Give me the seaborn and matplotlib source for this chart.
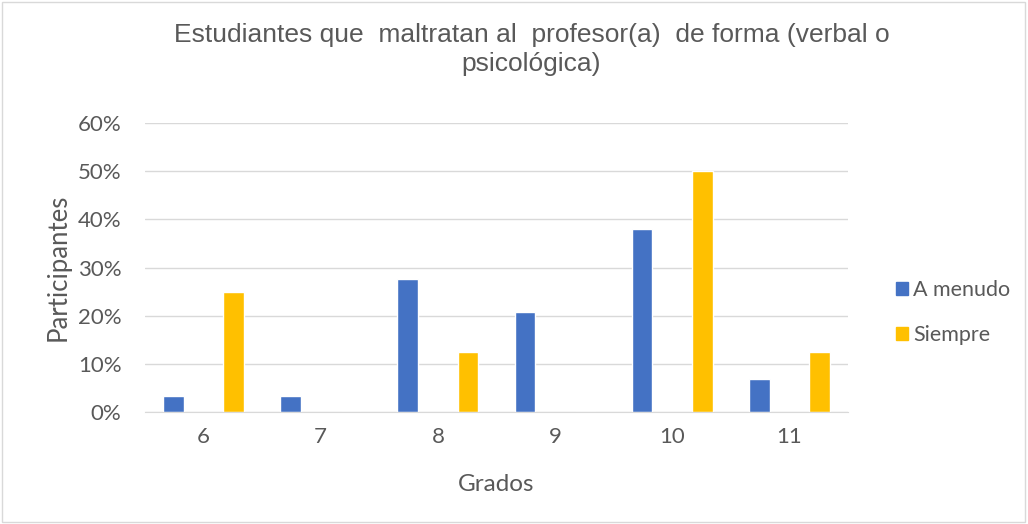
import pandas as pd
import seaborn as sns
import matplotlib.pyplot as plt
from matplotlib.patches import Rectangle
from matplotlib.ticker import PercentFormatter

# datos
grados = ["6", "7", "8", "9", "10", "11"]
a_menudo = [0.034, 0.034, 0.276, 0.207, 0.379, 0.069]
siempre = [0.25, 0.0, 0.125, 0.0, 0.50, 0.125]
series = ["A menudo", "Siempre"]
colores = ["#4472C4", "#FFC000"]

df = pd.DataFrame({
    "grado": grados * 2,
    "valor": a_menudo + siempre,
    "serie": [series[0]] * len(grados) + [series[1]] * len(grados),
})

sns.set_style("white")
plt.rcParams["font.family"] = ["Lato", "DejaVu Sans"]
gris = "#595959"

fig = plt.figure(figsize=(10.28, 5.24), dpi=100)
ax = fig.add_axes([0.141, 0.214, 0.684, 0.551])

sns.barplot(data=df, x="grado", y="valor", hue="serie", palette=colores,
            saturation=1, width=1.03, gap=0.66, ax=ax, legend=False)

ax.set_ylim(0, 0.6)
ax.set_xlim(-0.5, 5.5)
ax.set_yticks([0, 0.1, 0.2, 0.3, 0.4, 0.5, 0.6])
ax.yaxis.set_major_formatter(PercentFormatter(1.0, decimals=0))
ax.grid(axis="y", color="#D9D9D9", linewidth=1)
ax.set_axisbelow(True)
for s in ["top", "right", "left"]:
    ax.spines[s].set_visible(False)
ax.spines["bottom"].set_color("#D9D9D9")
ax.tick_params(axis="both", length=0, labelsize=16, colors=gris)
ax.tick_params(axis="x", pad=11)
ax.tick_params(axis="y", pad=17)

ax.set_xlabel("Grados", fontsize=17.5, color=gris, labelpad=19)
ax.set_ylabel("Participantes", fontsize=18.5, color=gris, labelpad=5)

fig.text(0.517, 0.905, "Estudiantes que  maltratan al  profesor(a)  de forma (verbal o\npsicológica)",
         ha="center", va="center", fontsize=19, color=gris,
         family=["Liberation Sans", "DejaVu Sans"], linespacing=1.27)

handles = [Rectangle((0, 0), 1, 1, color=c) for c in colores]
fig.legend(handles, series, loc="center left", bbox_to_anchor=(0.853, 0.403),
           frameon=False, fontsize=15.5, labelcolor=gris, handlelength=0.55,
           handleheight=0.55, handletextpad=0.25, labelspacing=1.15)

fig.patches.append(Rectangle((0.002, 0.003), 0.995, 0.994, transform=fig.transFigure,
                             fill=False, edgecolor="#D9D9D9", linewidth=1))

fig.savefig("out.png", dpi=100)
